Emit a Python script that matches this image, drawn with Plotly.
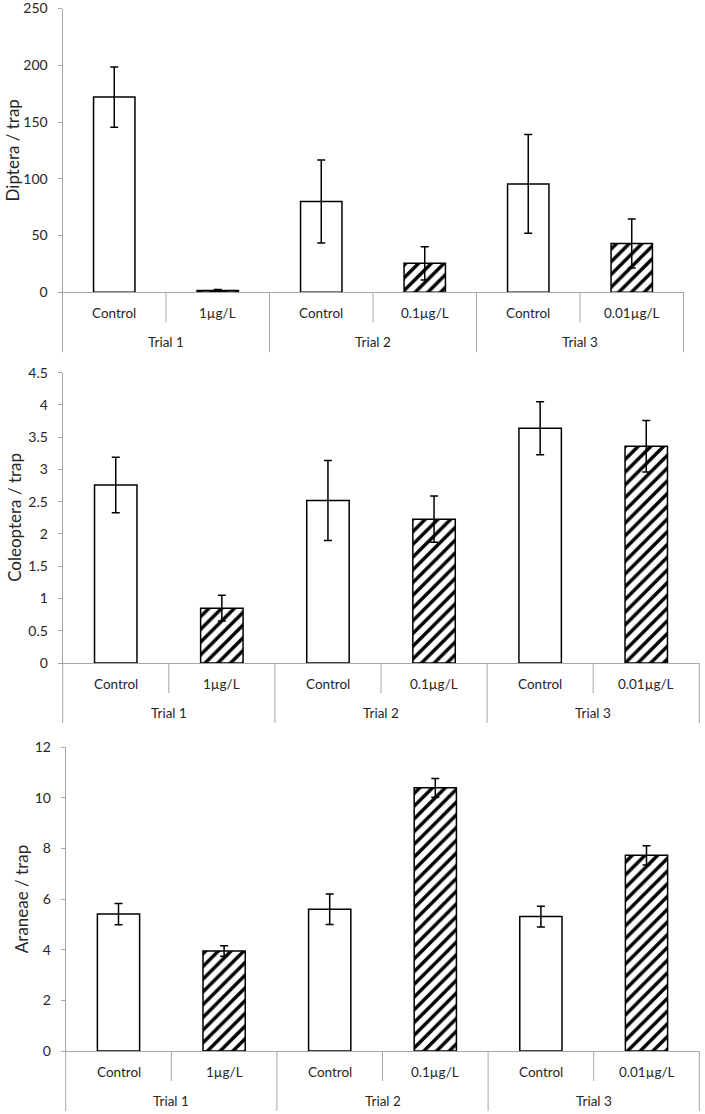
import plotly.graph_objects as go

# ---------------- data ----------------
trials = ["Trial 1", "Trial 1", "Trial 2", "Trial 2", "Trial 3", "Trial 3"]
treatments = ["Control", "1µg/L", "Control", "0.1µg/L", "Control", "0.01µg/L"]

diptera = [172, 1.5, 80, 25.5, 95.5, 43]
diptera_err = [26.5, 1.0, 36.5, 14.7, 43.5, 21.5]

coleoptera = [2.76, 0.85, 2.52, 2.23, 3.64, 3.36]
coleoptera_err = [0.43, 0.20, 0.62, 0.36, 0.41, 0.40]

araneae = [5.41, 3.95, 5.60, 10.40, 5.31, 7.73]
araneae_err = [0.42, 0.21, 0.60, 0.37, 0.41, 0.38]

y_titles = ["Diptera / trap", "Coleoptera / trap", "Araneae / trap"]
y_ranges = [[0, 250], [0, 4.5], [0, 12]]
y_dticks = [50, 0.5, 2]

# ---------------- layout geometry ----------------
W, H = 705, 1114
# (left px, right px, top px, bottom px) of each plot area
panels_px = [
    (62.5, 683.5, 8.5, 292.3),
    (62.7, 699.3, 372.7, 663.0),
    (65.7, 699.3, 747.3, 1051.0),
]
title_x_px = [12, 15, 21]

FONT = "Lato, 'Open Sans', sans-serif"
TXT = "#262626"
AXC = "#a6a6a6"

positions = list(range(len(treatments)))
series = [(diptera, diptera_err), (coleoptera, coleoptera_err), (araneae, araneae_err)]
patterns = ["" if t == "Control" else "/" for t in treatments]

fig = go.Figure()
layout = dict(
    template="none",
    width=W, height=H,
    margin=dict(l=0, r=0, t=0, b=0, pad=0, autoexpand=False),
    paper_bgcolor="white", plot_bgcolor="white",
    showlegend=False, bargap=0.6,
    font=dict(family=FONT, color=TXT),
)
annotations = []
shapes = []

for i, ((vals, errs), (l, r, t, b)) in enumerate(zip(series, panels_px)):
    n = "" if i == 0 else str(i + 1)
    xa, ya = "x" + n, "y" + n
    fig.add_trace(go.Bar(
        x=positions, y=vals,
        xaxis=xa, yaxis=ya,
        marker=dict(
            color="white",
            line=dict(color="black", width=1.5),
            pattern=dict(shape=patterns, fgcolor="black", bgcolor="white",
                         size=9, solidity=0.38, fillmode="replace"),
        ),
        error_y=dict(type="data", array=errs, visible=True,
                     color="black", thickness=1.5, width=4),
    ))
    hpx = b - t
    layout["xaxis" + n] = dict(
        domain=[l / W, r / W], anchor=ya, automargin=False,
        range=[-0.5, len(positions) - 0.5],
        showticklabels=False, ticks="", showgrid=False, zeroline=False,
        showline=True, linecolor=AXC, linewidth=1,
        fixedrange=True,
    )
    layout["yaxis" + n] = dict(
        domain=[1 - b / H, 1 - t / H], anchor=xa, automargin=False,
        range=y_ranges[i], dtick=y_dticks[i], tick0=0,
        showgrid=False, zeroline=False,
        showline=True, linecolor=AXC, linewidth=1,
        ticks="outside", ticklen=4, tickcolor=AXC, tickwidth=1,
        tickfont=dict(family=FONT, size=14, color=TXT),
        ticklabelstandoff=7, ticklabeloverflow="allow",
        fixedrange=True,
    )
    # y-axis title
    annotations.append(dict(
        text=y_titles[i], xref="paper", yref=ya + " domain",
        x=title_x_px[i] / W, y=0.5, xanchor="center", yanchor="middle",
        textangle=-90, showarrow=False,
        font=dict(family=FONT, size=17, color=TXT),
    ))
    # category labels (inner level)
    for p, lab in zip(positions, treatments):
        annotations.append(dict(
            text=lab, xref=xa, yref=ya + " domain", x=p, y=0,
            yshift=-21, xanchor="center", yanchor="middle", showarrow=False,
            font=dict(family=FONT, size=13.5, color=TXT),
        ))
    # trial labels (outer level)
    groups = []
    for p, tr in zip(positions, trials):
        if not groups or groups[-1][0] != tr:
            groups.append([tr, []])
        groups[-1][1].append(p)
    for tr, ps in groups:
        annotations.append(dict(
            text=tr, xref=xa, yref=ya + " domain", x=sum(ps) / len(ps), y=0,
            yshift=-50, xanchor="center", yanchor="middle", showarrow=False,
            font=dict(family=FONT, size=13.5, color=TXT),
        ))
    short = -30 / hpx
    long_ = -60 / hpx
    # inner dividers
    for k in range(1, len(positions)):
        is_group_edge = trials[k] != trials[k - 1]
        shapes.append(dict(
            type="line", xref=xa, yref=ya + " domain",
            x0=k - 0.5, x1=k - 0.5, y0=0, y1=long_ if is_group_edge else short,
            line=dict(color=AXC, width=1),
        ))
    # outer edges
    for xe in (0, 1):
        shapes.append(dict(
            type="line", xref=xa + " domain", yref=ya + " domain",
            x0=xe, x1=xe, y0=0, y1=long_,
            line=dict(color=AXC, width=1),
        ))

layout["annotations"] = annotations
layout["shapes"] = shapes
fig.update_layout(**layout)
fig.write_html(
    "out.html",
    config={"displayModeBar": False, "staticPlot": True},
    post_script="document.body.style.margin='0';document.body.style.padding='0';",
)
